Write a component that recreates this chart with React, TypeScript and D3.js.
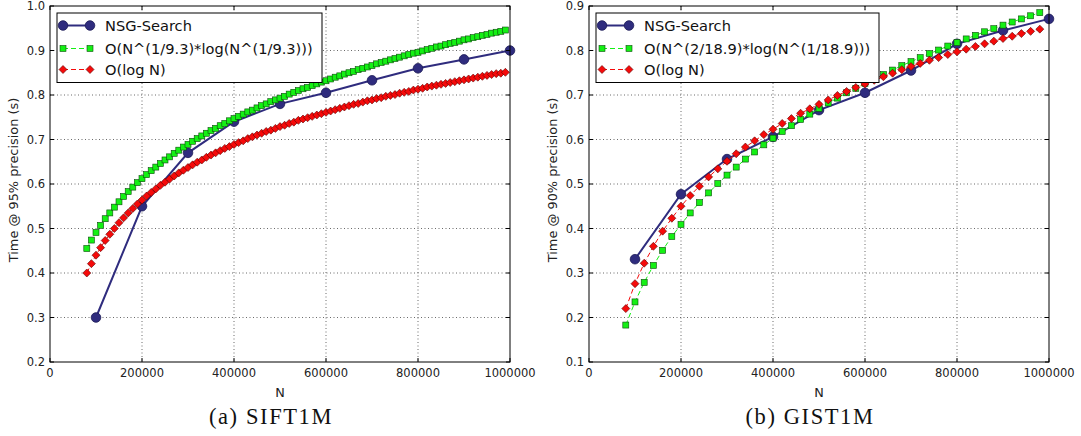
import React from 'react';
import * as d3 from 'd3';

// N values in thousands
const NSG_K = [100, 200, 300, 400, 500, 600, 700, 800, 900, 1000];

const SIFT_NSG = [0.3, 0.55, 0.67, 0.74, 0.78, 0.805, 0.833, 0.86, 0.88, 0.9];
const SIFT_FIT_K = [
  80, 90, 100, 110, 120, 130, 140, 150, 160, 170, 180, 190, 200, 210, 220, 230, 240, 250, 260, 270,
  280, 290, 300, 310, 320, 330, 340, 350, 360, 370, 380, 390, 400, 410, 420, 430, 440, 450, 460, 470,
  480, 490, 500, 510, 520, 530, 540, 550, 560, 570, 580, 590, 600, 610, 620, 630, 640, 650, 660, 670,
  680, 690, 700, 710, 720, 730, 740, 750, 760, 770, 780, 790, 800, 810, 820, 830, 840, 850, 860, 870,
  880, 890, 900, 910, 920, 930, 940, 950, 960, 970, 980, 990,
];
const SIFT_POW = [
  0.455, 0.474,
  0.491, 0.507, 0.522, 0.535, 0.548, 0.56, 0.572, 0.583, 0.593, 0.603,
  0.612, 0.621, 0.63, 0.638, 0.646, 0.654, 0.661, 0.669, 0.676, 0.683,
  0.689, 0.696, 0.702, 0.708, 0.714, 0.72, 0.725, 0.731, 0.736, 0.742,
  0.747, 0.752, 0.757, 0.762, 0.766, 0.771, 0.776, 0.78, 0.785, 0.789,
  0.793, 0.797, 0.802, 0.806, 0.81, 0.814, 0.817, 0.821, 0.825, 0.829,
  0.832, 0.836, 0.84, 0.843, 0.847, 0.85, 0.853, 0.857, 0.86, 0.863,
  0.866, 0.87, 0.873, 0.876, 0.879, 0.882, 0.885, 0.888, 0.891, 0.894,
  0.896, 0.899, 0.902, 0.905, 0.908, 0.91, 0.913, 0.916, 0.918, 0.921,
  0.924, 0.926, 0.929, 0.931, 0.934, 0.936, 0.939, 0.941, 0.943, 0.946,
];
const SIFT_LOG = [
  0.4, 0.421,
  0.44, 0.457, 0.473, 0.487, 0.5, 0.513, 0.524, 0.535, 0.545, 0.555,
  0.564, 0.573, 0.581, 0.589, 0.597, 0.604, 0.611, 0.618, 0.625, 0.631,
  0.637, 0.643, 0.649, 0.654, 0.66, 0.665, 0.67, 0.675, 0.68, 0.684,
  0.689, 0.693, 0.697, 0.702, 0.706, 0.71, 0.714, 0.718, 0.721, 0.725,
  0.729, 0.732, 0.736, 0.739, 0.743, 0.746, 0.749, 0.752, 0.755, 0.758,
  0.761, 0.764, 0.767, 0.77, 0.773, 0.776, 0.779, 0.781, 0.784, 0.787,
  0.789, 0.792, 0.794, 0.797, 0.799, 0.801, 0.804, 0.806, 0.808, 0.811,
  0.813, 0.815, 0.818, 0.82, 0.822, 0.824, 0.826, 0.828, 0.83, 0.832,
  0.834, 0.836, 0.838, 0.84, 0.842, 0.844, 0.846, 0.848, 0.849, 0.851,
];

const GIST_NSG = [0.331, 0.477, 0.556, 0.606, 0.666, 0.705, 0.755, 0.815, 0.845, 0.871];
const GIST_FIT_K = [
  80, 100, 120, 140, 160, 180, 200, 220, 240, 260, 280, 300, 320, 340, 360, 380, 400, 420, 440, 460,
  480, 500, 520, 540, 560, 580, 600, 620, 640, 660, 680, 700, 720, 740, 760, 780, 800, 820, 840, 860,
  880, 900, 920, 940, 960, 980,
];
const GIST_POW = [
  0.183, 0.235, 0.279, 0.317, 0.351, 0.382, 0.409, 0.435, 0.458, 0.48, 0.501, 0.52, 0.538, 0.556,
  0.572, 0.588, 0.603, 0.618, 0.631, 0.645, 0.657, 0.67, 0.682, 0.693, 0.705, 0.715, 0.726, 0.736,
  0.746, 0.756, 0.766, 0.775, 0.784, 0.793, 0.801, 0.81, 0.818, 0.826, 0.834, 0.842, 0.849, 0.857,
  0.864, 0.871, 0.878, 0.885,
];
const GIST_LOG = [
  0.22, 0.276, 0.322, 0.36, 0.394, 0.423, 0.45, 0.474, 0.495, 0.516, 0.534, 0.551, 0.568, 0.583,
  0.597, 0.611, 0.623, 0.636, 0.647, 0.659, 0.669, 0.679, 0.689, 0.699, 0.708, 0.717, 0.725, 0.733,
  0.741, 0.749, 0.757, 0.764, 0.771, 0.778, 0.784, 0.791, 0.797, 0.803, 0.809, 0.815, 0.821, 0.827,
  0.832, 0.838, 0.843, 0.848,
];

const X_TICKS = [0, 200000, 400000, 600000, 800000, 1000000];
const SIFT_Y_TICKS = [0.2, 0.3, 0.4, 0.5, 0.6, 0.7, 0.8, 0.9, 1.0];
const GIST_Y_TICKS = [0.1, 0.2, 0.3, 0.4, 0.5, 0.6, 0.7, 0.8, 0.9];

const FONT = 'DejaVu Sans, sans-serif';
const NAVY = '#2f2c7e';
const GREEN = '#14f014';
const RED = '#f50a0a';

type PanelProps = {
  left: number;
  right: number;
  yDomain: [number, number];
  yTicks: number[];
  yFmt: (v: number) => string;
  nsg: number[];
  fitK: number[];
  pow: number[];
  log: number[];
  powLabel: string;
  ylabel: string;
  caption: string;
  captionX: number;
  legendW: number;
};

const TOP = 6;
const BOTTOM = 362;

function Square({ x, y }: { x: number; y: number }) {
  return <rect x={x - 3} y={y - 3} width={6} height={6} fill={GREEN} stroke="#0a4a0a" strokeWidth={0.6} />;
}
function Diamond({ x, y }: { x: number; y: number }) {
  const s = 4;
  return (
    <path
      d={`M${x},${y - s}L${x + s},${y}L${x},${y + s}L${x - s},${y}Z`}
      fill={RED}
      stroke="#5a0000"
      strokeWidth={0.6}
    />
  );
}
function Dot({ x, y }: { x: number; y: number }) {
  return <circle cx={x} cy={y} r={4.8} fill={NAVY} stroke="#1c1a55" strokeWidth={0.8} />;
}

function Panel(p: PanelProps) {
  const x = d3.scaleLinear().domain([0, 1000000]).range([p.left, p.right]);
  const y = d3.scaleLinear().domain(p.yDomain).range([BOTTOM, TOP]);
  const line = d3
    .line<[number, number]>()
    .x((d) => x(d[0]))
    .y((d) => y(d[1]));

  const nsgPts: [number, number][] = NSG_K.map((k, i) => [k * 1000, p.nsg[i]]);
  const powPts: [number, number][] = p.fitK.map((k, i) => [k * 1000, p.pow[i]]);
  const logPts: [number, number][] = p.fitK.map((k, i) => [k * 1000, p.log[i]]);

  const lx = p.left + 7;
  const ly = 13;
  const rows = [25.5, 48.5, 69.5];

  return (
    <g>
      {/* grid */}
      {X_TICKS.slice(1, -1).map((t) => (
        <line key={'gx' + t} x1={x(t)} x2={x(t)} y1={TOP} y2={BOTTOM} stroke="#444" strokeWidth={0.8} strokeDasharray="1,2.5" />
      ))}
      {p.yTicks.slice(1, -1).map((t) => (
        <line key={'gy' + t} x1={p.left} x2={p.right} y1={y(t)} y2={y(t)} stroke="#444" strokeWidth={0.8} strokeDasharray="1,2.5" />
      ))}

      {/* series */}
      <path d={line(nsgPts) ?? ''} fill="none" stroke={NAVY} strokeWidth={2} />
      {nsgPts.map((d, i) => (
        <Dot key={'n' + i} x={x(d[0])} y={y(d[1])} />
      ))}
      <path d={line(powPts) ?? ''} fill="none" stroke={GREEN} strokeWidth={1} strokeDasharray="5,3" />
      {powPts.map((d, i) => (
        <Square key={'p' + i} x={x(d[0])} y={y(d[1])} />
      ))}
      <path d={line(logPts) ?? ''} fill="none" stroke={RED} strokeWidth={1} strokeDasharray="5,3" />
      {logPts.map((d, i) => (
        <Diamond key={'l' + i} x={x(d[0])} y={y(d[1])} />
      ))}

      {/* frame and ticks */}
      <rect x={p.left} y={TOP} width={p.right - p.left} height={BOTTOM - TOP} fill="none" stroke="#000" strokeWidth={1} />
      {X_TICKS.map((t) => (
        <g key={'tx' + t}>
          <line x1={x(t)} x2={x(t)} y1={BOTTOM} y2={BOTTOM - 4} stroke="#000" />
          <line x1={x(t)} x2={x(t)} y1={TOP} y2={TOP + 4} stroke="#000" />
          <text x={x(t)} y={377} textAnchor="middle" fontSize={11.5} fontFamily={FONT} fill="#222">
            {t}
          </text>
        </g>
      ))}
      {p.yTicks.map((t) => (
        <g key={'ty' + t}>
          <line x1={p.left} x2={p.left + 4} y1={y(t)} y2={y(t)} stroke="#000" />
          <line x1={p.right} x2={p.right - 4} y1={y(t)} y2={y(t)} stroke="#000" />
          <text x={p.left - 5} y={y(t) + 4} textAnchor="end" fontSize={11.5} fontFamily={FONT} fill="#222">
            {p.yFmt(t)}
          </text>
        </g>
      ))}
      <text x={(p.left + p.right) / 2} y={397} textAnchor="middle" fontSize={12.8} fontFamily={FONT} fill="#222">
        N
      </text>
      <text
        transform={`translate(${p.left - 32},180) rotate(-90)`}
        textAnchor="middle"
        fontSize={12.9}
        fontFamily={FONT}
        fill="#222"
      >
        {p.ylabel}
      </text>
      <text
        x={p.captionX}
        y={424}
        textAnchor="middle"
        fontSize={22.5}
        letterSpacing={1.6}
        fontFamily="Liberation Serif, serif"
        fill="#111"
      >
        {p.caption}
      </text>

      {/* legend */}
      <rect x={lx} y={ly} width={p.legendW} height={69.5} fill="#fff" stroke="#000" strokeWidth={1} />
      <line x1={lx + 6} x2={lx + 33} y1={rows[0]} y2={rows[0]} stroke={NAVY} strokeWidth={2} />
      <Dot x={lx + 6} y={rows[0]} />
      <Dot x={lx + 33} y={rows[0]} />
      <line x1={lx + 6} x2={lx + 33} y1={rows[1]} y2={rows[1]} stroke={GREEN} strokeWidth={1} strokeDasharray="5,3" />
      <Square x={lx + 6} y={rows[1]} />
      <Square x={lx + 33} y={rows[1]} />
      <line x1={lx + 6} x2={lx + 33} y1={rows[2]} y2={rows[2]} stroke={RED} strokeWidth={1} strokeDasharray="5,3" />
      <Diamond x={lx + 6} y={rows[2]} />
      <Diamond x={lx + 33} y={rows[2]} />
      {['NSG-Search', p.powLabel, 'O(log N)'].map((s, i) => (
        <text key={s} x={lx + 48} y={rows[i] + 5.5} fontSize={14.6} fontFamily={FONT} fill="#111">
          {s}
        </text>
      ))}
    </g>
  );
}

export default function App() {
  const fmt = d3.format('.1f');
  return (
    <svg
      width={1081}
      height={436}
      style={{ position: 'absolute', left: 0, top: 0, background: '#fff' }}
    >
      <rect width={1081} height={436} fill="#fff" />
      <Panel
        left={50}
        right={510}
        yDomain={[0.2, 1.0]}
        yTicks={SIFT_Y_TICKS}
        yFmt={fmt}
        nsg={SIFT_NSG}
        fitK={SIFT_FIT_K}
        pow={SIFT_POW}
        log={SIFT_LOG}
        powLabel="O(N^(1/9.3)*log(N^(1/9.3)))"
        ylabel="Time @ 95% precision (s)"
        caption="(a) SIFT1M"
        captionX={271}
        legendW={265}
      />
      <Panel
        left={589}
        right={1049}
        yDomain={[0.1, 0.9]}
        yTicks={GIST_Y_TICKS}
        yFmt={fmt}
        nsg={GIST_NSG}
        fitK={GIST_FIT_K}
        pow={GIST_POW}
        log={GIST_LOG}
        powLabel="O(N^(2/18.9)*log(N^(1/18.9)))"
        ylabel="Time @ 90% precision (s)"
        caption="(b) GIST1M"
        captionX={810}
        legendW={283}
      />
    </svg>
  );
}
